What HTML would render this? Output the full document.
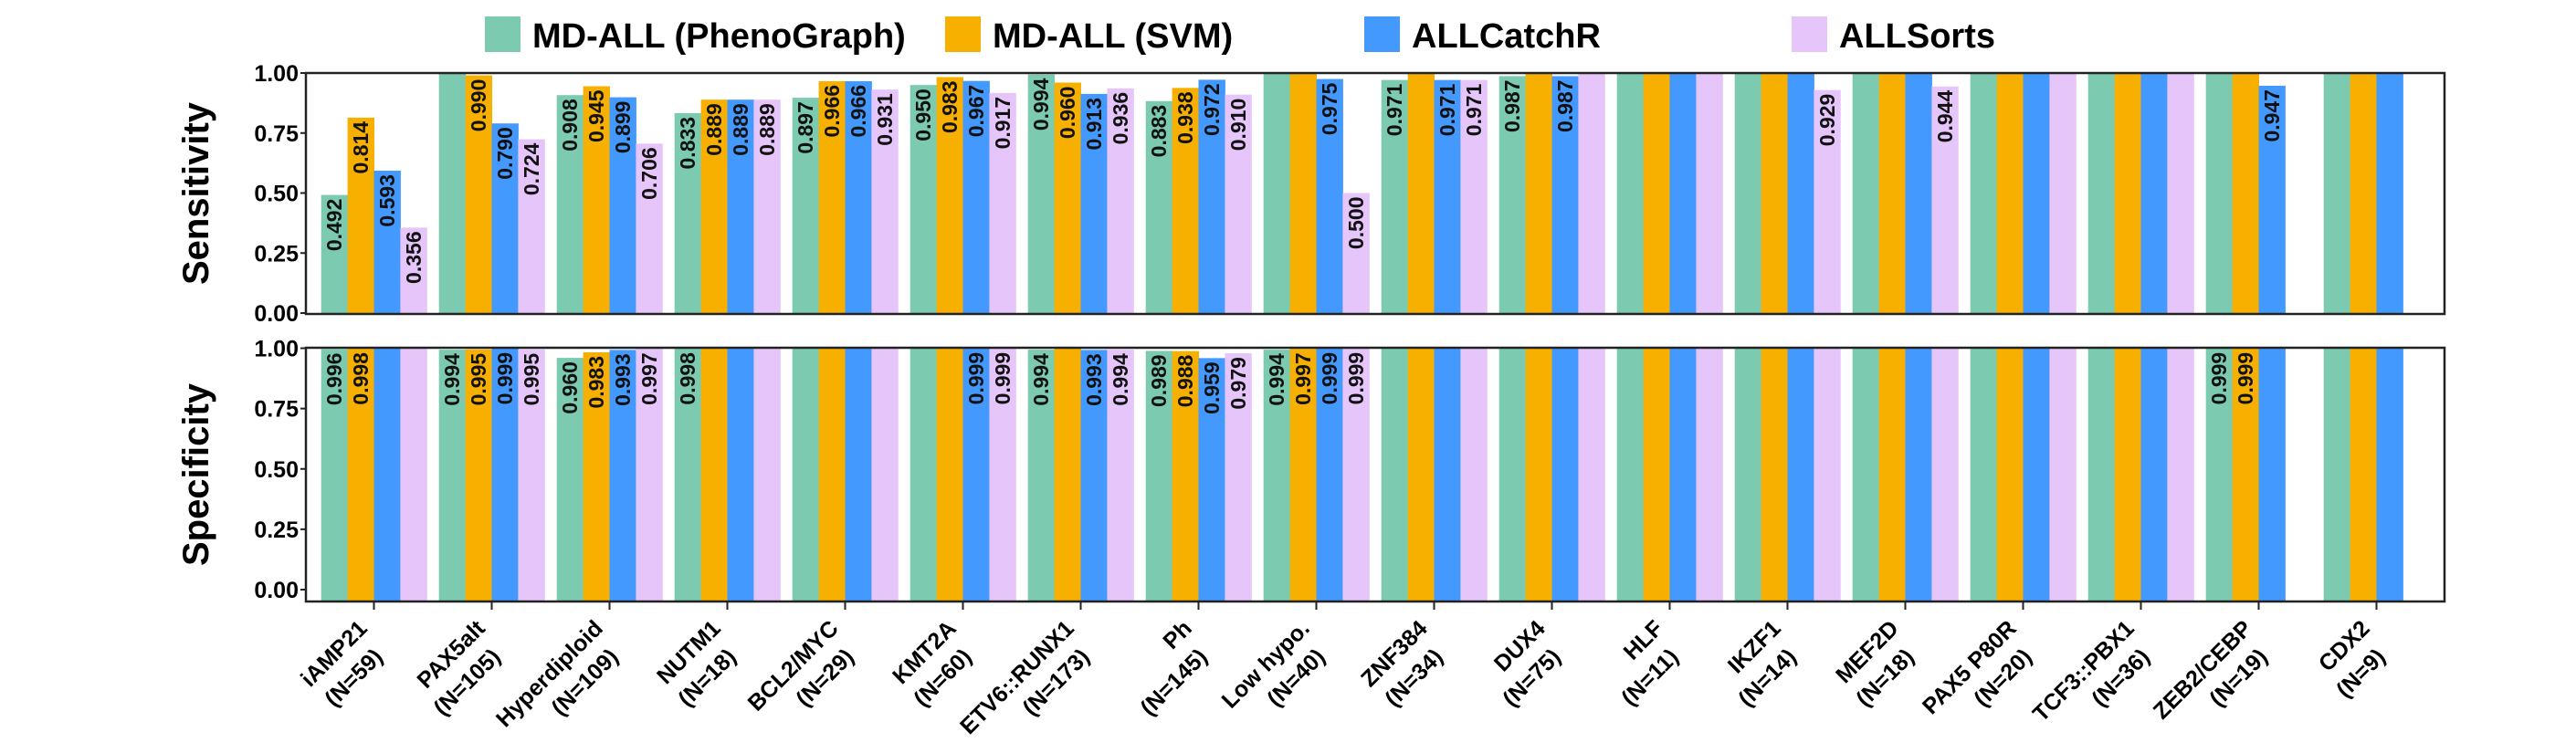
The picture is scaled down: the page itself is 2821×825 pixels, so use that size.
<!DOCTYPE html>
<html><head><meta charset="utf-8">
<style>
html,body{margin:0;padding:0;background:#fff;}
svg{display:block;font-family:"Liberation Sans",Arial,sans-serif;}
</style></head>
<body>
<svg id="chart" width="2821" height="825" viewBox="0 0 2821 825" xmlns="http://www.w3.org/2000/svg">
  <g>
    <rect x="531" y="18" width="39" height="39" fill="#7ccab0"/>
    <text x="583" y="52" font-size="38" font-weight="bold">MD-ALL (PhenoGraph)</text>
    <rect x="1035" y="18" width="39" height="39" fill="#f7b000"/>
    <text x="1087" y="52" font-size="38" font-weight="bold">MD-ALL (SVM)</text>
    <rect x="1494" y="18" width="39" height="39" fill="#4499ff"/>
    <text x="1546" y="52" font-size="38" font-weight="bold">ALLCatchR</text>
    <rect x="1962" y="18" width="39" height="39" fill="#e6c6fa"/>
    <text x="2014" y="52" font-size="38" font-weight="bold">ALLSorts</text>
  </g>
  <g id="panels"></g>
</svg>
<script>
const categories = ["iAMP21","PAX5alt","Hyperdiploid","NUTM1","BCL2/MYC","KMT2A","ETV6::RUNX1","Ph","Low hypo.","ZNF384","DUX4","HLF","IKZF1","MEF2D","PAX5 P80R","TCF3::PBX1","ZEB2/CEBP","CDX2"];
const counts = ["(N=59)","(N=105)","(N=109)","(N=18)","(N=29)","(N=60)","(N=173)","(N=145)","(N=40)","(N=34)","(N=75)","(N=11)","(N=14)","(N=18)","(N=20)","(N=36)","(N=19)","(N=9)"];
const seriesNames = ["MD-ALL (PhenoGraph)","MD-ALL (SVM)","ALLCatchR","ALLSorts"];
const sensPheno = [0.492,1,0.908,0.833,0.897,0.950,0.994,0.883,1,0.971,0.987,1,1,1,1,1,1,1];
const sensSVM   = [0.814,0.990,0.945,0.889,0.966,0.983,0.960,0.938,1,1,1,1,1,1,1,1,1,1];
const sensCatch = [0.593,0.790,0.899,0.889,0.966,0.967,0.913,0.972,0.975,0.971,0.987,1,1,1,1,1,0.947,1];
const sensSorts = [0.356,0.724,0.706,0.889,0.931,0.917,0.936,0.910,0.500,0.971,1,1,0.929,0.944,1,1,null,null];
const specPheno = [0.996,0.994,0.960,0.998,1,1,0.994,0.989,0.994,1,1,1,1,1,1,1,0.999,1];
const specSVM   = [0.998,0.995,0.983,1,1,1,1,0.988,0.997,1,1,1,1,1,1,1,0.999,1];
const specCatch = [1,0.999,0.993,1,1,0.999,0.993,0.959,0.999,1,1,1,1,1,1,1,1,1];
const specSorts = [1,0.995,0.997,1,1,0.999,0.994,0.979,0.999,1,1,1,1,1,1,1,null,null];
const yTicks = [0,0.25,0.5,0.75,1];
const yTickLabels = ["0.00","0.25","0.50","0.75","1.00"];

const NS="http://www.w3.org/2000/svg";
const colors=["#7ccab0","#f7b000","#4499ff","#e6c6fa"];
const root=document.getElementById('panels');
const plotL=335, plotR=2677, step=129, firstC=409.5, barW=28.9;
function xCenter(i){return firstC+i*step;}
function mk(tag,attrs,parent){const e=document.createElementNS(NS,tag);for(const k in attrs)e.setAttribute(k,attrs[k]);parent.appendChild(e);return e;}

function panel(name,title,series,y1,y0,boxTop,boxBot,barBase){
  const g=mk('g',{},root);
  
  
  const yS=v=>y0+(y1-y0)*v;
  series.forEach((vals,s)=>{
    vals.forEach((v,i)=>{
      if(v===null) return;
      const x=xCenter(i)-2*barW+s*barW;
      const top=yS(v);
      const r=mk('rect',{x:x,y:top,width:barW+0.5,height:barBase-top,fill:colors[s]},g);
      
      
      if(v<1){
        const tx=x+barW/2+8, ty=top+4;
        const t=mk('text',{x:tx,y:ty,transform:`rotate(-90 ${tx} ${ty})`,'text-anchor':'end','font-size':23,'font-weight':'bold',fill:'#111'},g);
        t.textContent=v.toFixed(3);
        
        
      }
    });
  });
  mk('rect',{x:plotL,y:boxTop,width:plotR-plotL,height:boxBot-boxTop,fill:'none',stroke:'#222','stroke-width':2.5},g);
  yTicks.forEach((v,k)=>{
    const y=yS(v);
    mk('line',{x1:plotL-6,x2:plotL,y1:y,y2:y,stroke:'#222','stroke-width':2},g);
    const t=mk('text',{x:plotL-8,y:y+9,'text-anchor':'end','font-size':25,'font-weight':'bold'},g);
    t.textContent=yTickLabels[k];
    
    
  });
  const cy=(boxTop+boxBot)/2;
  const tt=mk('text',{x:228,y:cy,transform:`rotate(-90 228 ${cy})`,'text-anchor':'middle','font-size':40,'font-weight':'bold'},g);
  tt.textContent=title;
  
  
}
panel('sensitivity','Sensitivity',[sensPheno,sensSVM,sensCatch,sensSorts],80,343,80,344,343);
panel('specificity','Specificity',[specPheno,specSVM,specCatch,specSorts],381.5,646,381,659,658);

const xg=mk('g',{},root);


categories.forEach((c,i)=>{
  const cx=xCenter(i);
  mk('line',{x1:cx,x2:cx,y1:660,y2:668,stroke:'#222','stroke-width':2},xg);
  const ax=cx-6, ay=690;
  const t=mk('text',{x:ax,y:ay,transform:`rotate(-45 ${ax} ${ay})`,'text-anchor':'end','font-size':25,'font-weight':'bold'},xg);
  
  
  const a=mk('tspan',{x:ax,dy:0},t); a.textContent=c;
  const b=mk('tspan',{x:ax-10,dy:34},t); b.textContent=counts[i];
});
</script>
</body></html>
